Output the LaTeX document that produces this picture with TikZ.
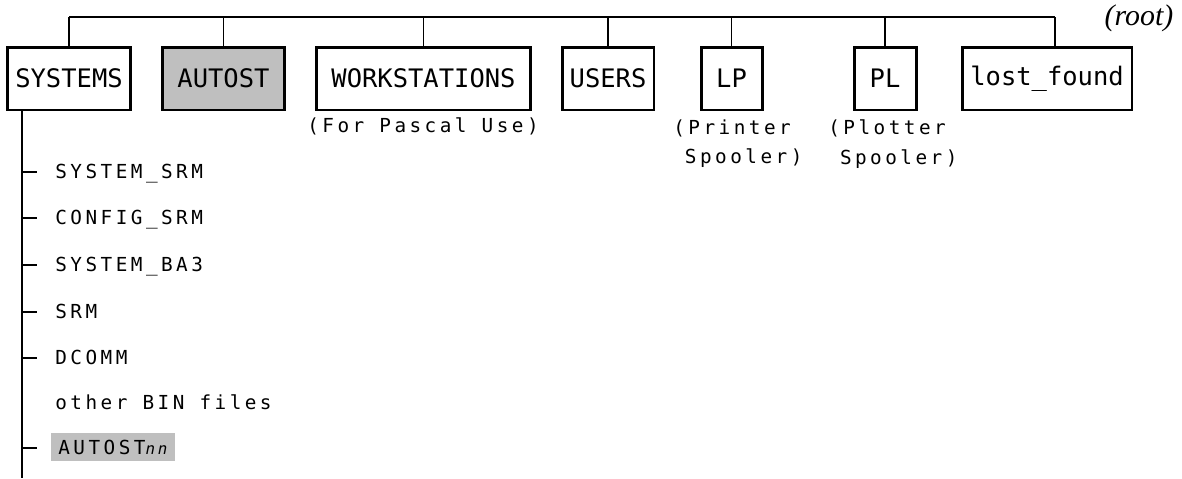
\documentclass[tikz,border=0pt]{standalone}
\usepackage{fontspec}
\newfontfamily\boxfont{DejaVu Sans Mono}
\newfontfamily\notefont{DejaVu Sans Mono}[LetterSpace=18]
\newfontfamily\filefont{DejaVu Sans Mono}[LetterSpace=18]
\newfontfamily\rootfont{Liberation Serif}

\begin{document}
\begin{tikzpicture}[x=0.02cm,y=-0.02cm,
        dirbox/.style={draw,line width=1.7pt,minimum height=1.26cm,inner sep=0pt,font=\boxfont\fontsize{14.5}{16}\selectfont},
        note/.style={font=\notefont\fontsize{11}{17}\selectfont,align=left,inner sep=0pt},
        file/.style={font=\filefont\fontsize{11}{12}\selectfont,anchor=base west,inner sep=0pt},
        link/.style={line width=0.6pt}]
        \useasboundingbox (0,0) rectangle (1182,478);
        % top level directories
        \node[dirbox,minimum width=2.48cm] (systems) at (69,78.5) {SYSTEMS};
        \node[dirbox,minimum width=2.46cm,fill=black!25] (autost) at (223.5,78.5) {AUTOST};
        \node[dirbox,minimum width=4.30cm] (workst) at (423.5,78.5) {WORKSTATIONS};
        \node[dirbox,minimum width=1.84cm] (users) at (608,78.5) {USERS};
        \node[dirbox,minimum width=1.22cm] (lp) at (731.5,78.5) {LP};
        \node[dirbox,minimum width=1.24cm] (pl) at (885,78.5) {PL};
        \node[dirbox,minimum width=3.40cm] (lost) at (1047,78.5) {lost\_found};
        \node[font=\rootfont\itshape\fontsize{17}{19}\selectfont,inner sep=0pt] (root) at (1139,18) {(root)};
        % notes under the boxes
        \node[note] (pascal) at (423,126) {(For Pascal Use)};
        \node[note,anchor=north west] (printer) at (673,119) {(Printer\\\hphantom{(}Spooler)};
        \node[note,anchor=north west] (plotter) at (828,119) {(Plotter\\\hphantom{(}Spooler)};
        % root line
        \coordinate (top) at (0,17);
        \coordinate (lostpin) at ([xshift=0.16cm]lost.north);
        \draw[link] (systems.north |- top) -- (lostpin |- top);
        \foreach \n in {systems,autost,workst,users,lp,pl}
            \draw[link] (\n.north) -- (\n.north |- top);
        \draw[link] (lostpin) -- (lostpin |- top);
        % contents of SYSTEMS
        \coordinate (trunk) at (22,478);
        \draw[link] (trunk |- systems.south) -- (trunk);
        \foreach \y/\txt [count=\i] in {172/SYSTEM\_SRM,218/CONFIG\_SRM,265/SYSTEM\_BA3,312/SRM,358/DCOMM}{
            \node[file] (f\i) at (55,\y+6) {\txt};
            \draw[link] (22,\y) -- (37,\y);
        }
        \node[note,anchor=base west] (other) at (55,409) {other BIN files};
        \node[file,fill=black!25,inner xsep=4pt,inner ysep=4pt] (autostnn) at (51,454) {AUTOST{\itshape\fontsize{9}{10}\selectfont nn}};
        \draw[link] (22,448) -- (37,448);
    \end{tikzpicture}
\end{document}
